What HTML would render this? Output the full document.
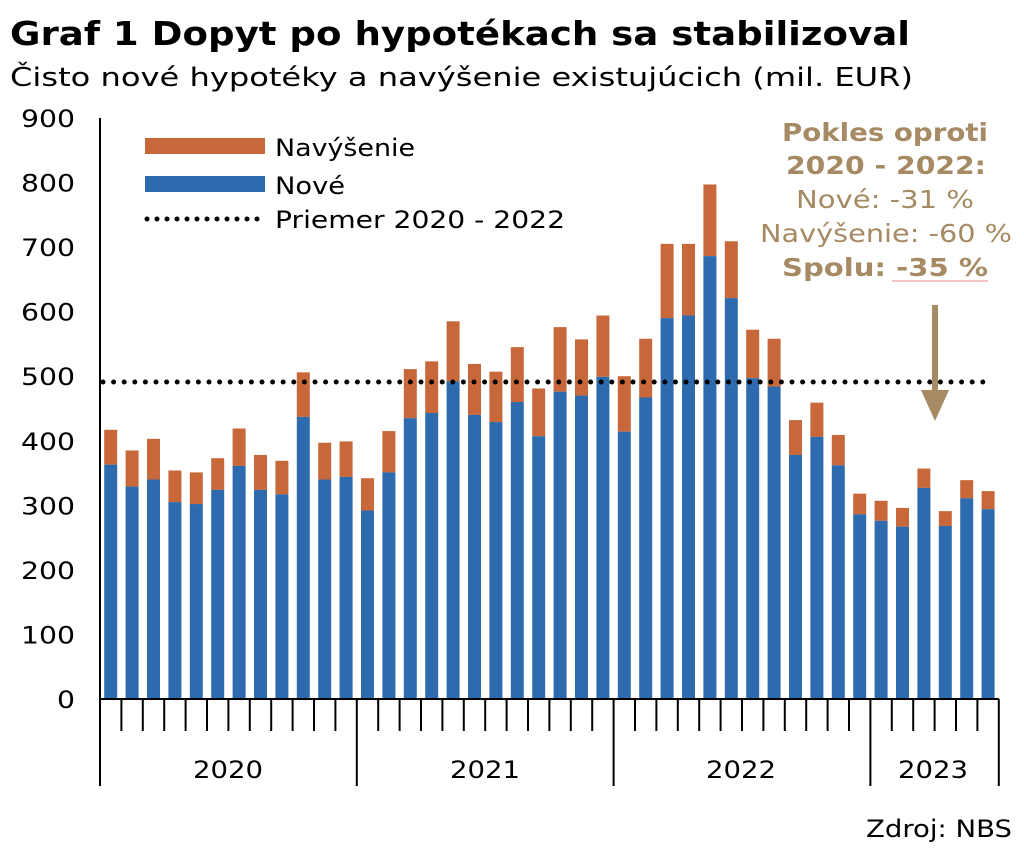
<!DOCTYPE html>
<html><head><meta charset="utf-8"><style>
body{margin:0;background:#fff;width:1024px;height:850px;overflow:hidden}
svg{display:block}
text{font-family:"DejaVu Sans","Liberation Sans",sans-serif}
</style></head><body>
<svg id="s" width="1024" height="850" xmlns="http://www.w3.org/2000/svg">
<text x="10" y="45" font-size="33" font-weight="bold" fill="#000" textLength="900" lengthAdjust="spacingAndGlyphs">Graf 1 Dopyt po hypotékach sa stabilizoval</text>
<text x="10" y="86" font-size="26" fill="#000" textLength="903" lengthAdjust="spacingAndGlyphs">Čisto nové hypotéky a navýšenie existujúcich (mil. EUR)</text>
<g id="g"></g>
<rect x="145" y="138" width="120" height="16" fill="#C8683A"/>
<text x="275" y="156" font-size="24" textLength="140" lengthAdjust="spacingAndGlyphs">Navýšenie</text>
<rect x="145" y="176" width="120" height="16" fill="#2E6BAE"/>
<text x="275" y="194" font-size="24" textLength="70" lengthAdjust="spacingAndGlyphs">Nové</text>
<line x1="147" y1="219" x2="265" y2="219" stroke="#000" stroke-width="5" stroke-dasharray="0 10" stroke-linecap="round"/>
<text x="275" y="228" font-size="24" textLength="290" lengthAdjust="spacingAndGlyphs">Priemer 2020 - 2022</text>
<g fill="#A58A63" font-size="25">
<text x="782" y="141" font-weight="bold" textLength="206" lengthAdjust="spacingAndGlyphs">Pokles oproti</text>
<text x="786" y="174" font-weight="bold" textLength="200" lengthAdjust="spacingAndGlyphs">2020 - 2022:</text>
<text x="796" y="208" textLength="178" lengthAdjust="spacingAndGlyphs">Nové: -31 %</text>
<text x="760" y="242" textLength="252" lengthAdjust="spacingAndGlyphs">Navýšenie: -60 %</text>
<text x="782" y="276" font-weight="bold" textLength="206" lengthAdjust="spacingAndGlyphs">Spolu: -35 %</text>
</g>
<line x1="892" y1="281" x2="988" y2="281" stroke="#e88" stroke-width="1"/>
<rect x="932" y="305" width="6" height="85" fill="#A58A63"/>
<polygon points="921,390 949,390 935,421" fill="#A58A63"/>
<text x="866" y="837" font-size="24" textLength="146" lengthAdjust="spacingAndGlyphs">Zdroj: NBS</text>
</svg>
<script>
var d=[[417,363],[385,329],[403,340],[354,305],[351,302],[373,324],[419,361],[378,324],[369,317],[506,437],[397,340],[399,344],
[342,292],[415,351],[511,435],[523,443],[585,492],[519,440],[507,429],[545,460],[481,407],[576,476],[557,470],[594,499],
[500,414],[558,467],[705,590],[705,594],[797,686],[709,621],[572,497],[558,484],[432,378],[459,406],[409,362],[318,286],
[307,276],[296,267],[357,327],[291,268],[339,311],[322,294]];
var y0=699,k=0.6456,x0=100,w=21.4,h='';
for(var i=0;i<d.length;i++){var x=x0+i*w+4.2,t=d[i][0],n=d[i][1];
h+='<rect x="'+x+'" y="'+(y0-t*k)+'" width="13" height="'+((t-n)*k)+'" fill="#C8683A"/>';
h+='<rect x="'+x+'" y="'+(y0-n*k)+'" width="13" height="'+(n*k)+'" fill="#2E6BAE"/>';}
for(var v=0;v<=900;v+=100){var s=String(v);var L=s.length*18;
h+='<text x="'+(75-L)+'" y="'+(y0-v*k+9)+'" font-size="24" textLength="'+L+'" lengthAdjust="spacingAndGlyphs">'+v+'</text>';}
h+='<line x1="100" y1="118" x2="100" y2="699" stroke="#000" stroke-width="2"/>';
h+='<line x1="100" y1="699" x2="999" y2="699" stroke="#000" stroke-width="2"/>';
h+='<line x1="103" y1="382" x2="990" y2="382" stroke="#000" stroke-width="5" stroke-dasharray="0 10.6" stroke-linecap="round"/>';
for(var i=0;i<=42;i++){var x=x0+i*w;var big=(i%12==0)||i==42;
h+='<line x1="'+x+'" y1="699" x2="'+x+'" y2="'+(big?786:731)+'" stroke="#000" stroke-width="2"/>';}
var yrs=[[2020,228],[2021,485],[2022,741],[2023,933]];
yrs.forEach(function(a){h+='<text x="'+(a[1]-35)+'" y="778" font-size="24" textLength="70" lengthAdjust="spacingAndGlyphs">'+a[0]+'</text>';});
document.getElementById('g').innerHTML=h;
</script>
</body></html>
